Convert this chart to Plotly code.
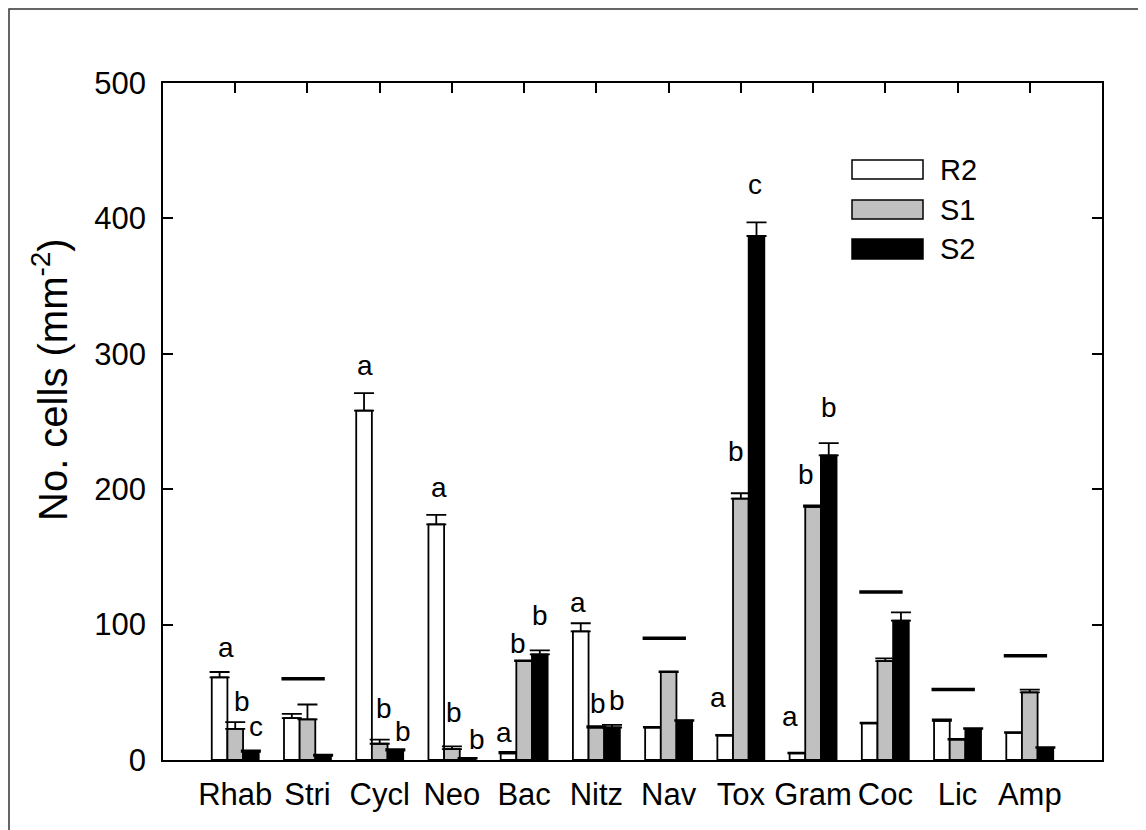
import plotly.graph_objects as go

# ---------------- data ----------------
categories = ["Rhab", "Stri", "Cycl", "Neo", "Bac", "Nitz", "Nav", "Tox", "Gram", "Coc", "Lic", "Amp"]
series_names = ["R2", "S1", "S2"]

r2_vals = [61, 31, 258, 174, 5, 95, 24, 18, 5, 27, 29, 20]
r2_err  = [4, 3, 13, 7, 1, 6, 0.5, 0.5, 0.5, 0.5, 1, 0.5]
s1_vals = [23, 30, 12, 8, 73, 24, 65, 193, 187, 73, 15, 50]
s1_err  = [5, 11, 3, 2, 0.5, 1, 0.5, 4, 1, 2, 0.5, 2]
s2_vals = [6, 3, 7, 1, 78, 24, 29, 387, 225, 103, 23, 9]
s2_err  = [1, 1, 1, 0.5, 3, 2, 0.5, 10, 9, 6, 0.5, 0.5]

r2_letters = ["a", "", "a", "a", "a", "a", "", "a", "a", "", "", ""]
s1_letters = ["b", "", "b", "b", "b", "b", "", "b", "b", "", "", ""]
s2_letters = ["c", "", "b", "b", "b", "b", "", "c", "b", "", "", ""]

# height of the "no significant difference" bar (None = not drawn)
ns_line = [None, 60, None, None, None, None, 90, None, None, 124, 52, 77]

y_ticks = [0, 100, 200, 300, 400, 500]

# ---------------- letter placement (annotation layout: height in axis units, x nudge in px) ----------------
r2_lab_y  = [83, None, 291, 201, 20, 116, None, 46, 32, None, None, None]
s1_lab_y  = [43, None, 38, 35, 86, 42, None, 228, 211, None, None, None]
s2_lab_y  = [25, None, 21, 15, 107, 44, None, 425, 260, None, None, None]
r2_lab_dx = [6, 0, 1, 3, -5, -3, 0, -7, -7, 0, 0, 0]
s1_lab_dx = [7, 0, 4, 2, -6, 2, 0, -5, -7, 0, 0, 0]
s2_lab_dx = [5, 0, 8, 9, 0, 5, 0, -2, 0, 0, 0, 0]

# ---------------- styling / layout ----------------
FONT = "Arial, Liberation Sans, sans-serif"
fills = ["#ffffff", "#c0c0c0", "#000000"]
BODY = 8                      # default page margin of the html body
W, H = 1146 - BODY, 830 - BODY
L, T = 163 - BODY, 83 - BODY
PW, PH = 939, 677
R = W - L - PW
B = H - T - PH

def px_x(px):                 # screen px -> paper x
    return (px - BODY - L) / PW

def px_y(py):                 # screen px -> paper y
    return (BODY + T + PH - py) / PH

x_pos = list(range(len(categories)))
bargap = 0.35
bar_w = (1 - bargap) / 3
offsets = [-bar_w, 0, bar_w]

fig = go.Figure()
all_vals = [r2_vals, s1_vals, s2_vals]
all_err = [r2_err, s1_err, s2_err]
all_letters = [r2_letters, s1_letters, s2_letters]
all_lab_y = [r2_lab_y, s1_lab_y, s2_lab_y]
all_lab_dx = [r2_lab_dx, s1_lab_dx, s2_lab_dx]

for k, name in enumerate(series_names):
    fig.add_trace(go.Bar(
        x=x_pos, y=all_vals[k], name=name,
        marker=dict(color=fills[k], line=dict(color="black", width=1.8)),
        error_y=dict(type="data", symmetric=False, array=all_err[k],
                     arrayminus=[0] * len(categories),
                     color="black", thickness=1.8, width=10),
        showlegend=False,
    ))

annotations = []
for k in range(3):
    for i, lt in enumerate(all_letters[k]):
        if lt:
            annotations.append(dict(
                x=x_pos[i] + offsets[k], y=all_lab_y[k][i], xshift=all_lab_dx[k][i],
                xref="x", yref="y", text=lt, showarrow=False,
                yanchor="middle", xanchor="center",
                font=dict(family=FONT, size=28, color="black")))

shapes = []
for i, v in enumerate(ns_line):
    if v is not None:
        shapes.append(dict(type="line", xref="x", yref="y",
                           x0=x_pos[i] - 0.36, x1=x_pos[i] + 0.24, y0=v, y1=v,
                           line=dict(color="black", width=3.5)))

# manual legend
leg_rows = [(160, 179), (200, 219), (239, 259)]
for k, name in enumerate(series_names):
    y0p, y1p = leg_rows[k]
    shapes.append(dict(type="rect", xref="paper", yref="paper",
                       x0=px_x(852), x1=px_x(923), y0=px_y(y1p), y1=px_y(y0p),
                       fillcolor=fills[k], line=dict(color="black", width=1.5)))
    annotations.append(dict(x=px_x(938), y=px_y((y0p + y1p) / 2), xref="paper", yref="paper",
                            text=name, showarrow=False, xanchor="left", yanchor="middle",
                            font=dict(family=FONT, size=29, color="black")))

# outer frame
shapes.append(dict(type="rect", xref="paper", yref="paper",
                   x0=px_x(9), x1=px_x(1142), y0=px_y(845), y1=px_y(9),
                   line=dict(color="#333333", width=1.5), fillcolor="rgba(0,0,0,0)"))

# y axis title
annotations.append(dict(x=px_x(50), y=px_y(380), xref="paper", yref="paper",
                        text="No. cells (mm<sup>-2</sup>)", showarrow=False, textangle=-90,
                        xanchor="center", yanchor="middle",
                        font=dict(family=FONT, size=40, color="black")))

fig.update_layout(
    width=W, height=H, autosize=False,
    margin=dict(l=L, r=R, t=T, b=B, pad=0),
    paper_bgcolor="white", plot_bgcolor="white",
    barmode="group", bargap=bargap, bargroupgap=0,
    shapes=shapes, annotations=annotations,
    font=dict(family=FONT, color="black"),
)
fig.update_xaxes(range=[-1, 12], tickvals=x_pos, ticktext=categories,
                 ticks="inside", ticklen=10, tickwidth=1.5, tickcolor="black",
                 showline=True, linecolor="black", linewidth=1.5, mirror="ticks",
                 showgrid=False, zeroline=False, layer="below traces",
                 ticklabelstandoff=6,
                 tickfont=dict(family=FONT, size=31, color="black"))
fig.update_yaxes(range=[0, 500], tickvals=y_ticks,
                 ticks="inside", ticklen=10, tickwidth=1.5, tickcolor="black",
                 showline=True, linecolor="black", linewidth=1.5, mirror="ticks",
                 showgrid=False, zeroline=False, layer="below traces",
                 ticklabelstandoff=9,
                 tickfont=dict(family=FONT, size=31, color="black"))

fig.write_html("out.html")
